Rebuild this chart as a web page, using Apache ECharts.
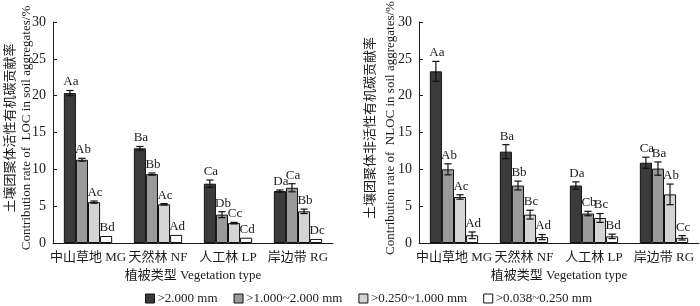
<!DOCTYPE html>
<html>
<head>
<meta charset="utf-8">
<script src="https://cdn.jsdelivr.net/npm/echarts@6/dist/echarts.min.js"></script>
<style>
  html, body { margin: 0; padding: 0; background: #fff; }
  #main { width: 700px; height: 306px; }
</style>
</head>
<body>
<div id="main"></div>
<script>
// 植被类型
const categories = ['中山草地 MG', '天然林 NF', '人工林 LP', '岸边带 RG'];
// 团聚体粒级
const sizeClasses = ['>2.000 mm', '>1.000~2.000 mm', '>0.250~1.000 mm', '>0.038~0.250 mm'];
const barColors = ['#3b3b3b', '#9a9a9a', '#d4d4d4', '#ffffff'];

// 活性有机碳贡献率 (LOC), 每行一个粒级
const locMean = [
    [20.35, 12.85, 8.05, 7.05],
    [11.3, 9.35, 3.85, 7.5],
    [5.55, 5.25, 2.7, 4.3],
    [0.95, 1.1, 0.72, 0.55]
];
const locErr = [
    [0.35, 0.25, 0.5, 0.15],
    [0.2, 0.15, 0.4, 0.55],
    [0.15, 0.1, 0.1, 0.3],
    [0, 0, 0, 0]
];
const locLetters = [
    ['Aa', 'Ba', 'Ca', 'Da'],
    ['Ab', 'Bb', 'Db', 'Ca'],
    ['Ac', 'Ac', 'Cc', 'Bb'],
    ['Bd', 'Ad', 'Cd', 'Dc']
];

// 非活性有机碳贡献率 (NLOC)
const nlocMean = [
    [23.3, 12.4, 7.8, 10.9],
    [10.0, 7.8, 4.0, 10.1],
    [6.25, 3.85, 3.4, 6.6],
    [1.05, 0.8, 0.9, 0.7]
];
const nlocErr = [
    [1.35, 0.95, 0.5, 0.75],
    [0.75, 0.6, 0.3, 0.9],
    [0.3, 0.6, 0.6, 1.4],
    [0.45, 0.35, 0.3, 0.3]
];
const nlocLetters = [
    ['Aa', 'Ba', 'Da', 'Ca'],
    ['Ab', 'Bb', 'Cb', 'Ba'],
    ['Ac', 'Bc', 'Bc', 'Ab'],
    ['Ad', 'Ad', 'Bd', 'Cc']
];

const yTicks = { min: 0, max: 30, interval: 5 };

const FONT = "'Liberation Serif', 'Noto Sans CJK SC', serif";
const GAP = 0.31;

const chart = echarts.init(document.getElementById('main'));

function xAxisFor(gridIndex) {
    return {
        type: 'category',
        gridIndex: gridIndex,
        data: categories,
        name: '植被类型 Vegetation type',
        nameLocation: 'middle',
        nameGap: 26,
        nameTextStyle: { fontFamily: FONT, fontSize: 13, color: '#1a1a1a' },
        axisLine: { lineStyle: { color: '#1a1a1a', width: 1 } },
        axisTick: { inside: true, length: 4, lineStyle: { color: '#1a1a1a' } },
        axisLabel: { fontFamily: FONT, fontSize: 13, color: '#1a1a1a', margin: 8, interval: 0 }
    };
}

function yAxisFor(gridIndex) {
    return {
        type: 'value',
        gridIndex: gridIndex,
        min: yTicks.min,
        max: yTicks.max,
        interval: yTicks.interval,
        splitLine: { show: false },
        axisLine: { show: true, lineStyle: { color: '#1a1a1a', width: 1 } },
        axisTick: { show: true, inside: true, length: 4, lineStyle: { color: '#1a1a1a' } },
        axisLabel: { fontFamily: FONT, fontSize: 14, color: '#1a1a1a', margin: 7 }
    };
}

function barSeries(gridIndex, means) {
    return means.map((row, i) => ({
        name: sizeClasses[i],
        type: 'bar',
        xAxisIndex: gridIndex,
        yAxisIndex: gridIndex,
        data: row,
        barGap: '0%',
        barCategoryGap: (GAP * 100) + '%',
        itemStyle: { color: barColors[i], borderColor: '#111', borderWidth: 1 },
        silent: true
    }));
}

// 误差线 + 显著性字母
function errorSeries(gridIndex, means, errs, letters) {
    return means.map((row, i) => ({
        type: 'custom',
        xAxisIndex: gridIndex,
        yAxisIndex: gridIndex,
        z: 5,
        silent: true,
        data: row.map((v, c) => [c, v, errs[i][c], letters[i][c]]),
        encode: { x: 0, y: 1 },
        renderItem: function (params, api) {
            const c = api.value(0);
            const v = api.value(1);
            const e = api.value(2);
            const band = api.size([1, 0])[0];
            const bw = band * (1 - GAP) / 4;
            const x = api.coord([c, 0])[0] + (i - 1.5) * bw;
            const top = api.coord([c, v + e])[1];
            const bot = api.coord([c, v - e])[1];
            const cap = bw * 0.3;
            const children = [];
            if (e > 0) {
                const ls = { stroke: '#111', lineWidth: 1.2 };
                children.push({ type: 'line', shape: { x1: x, y1: top, x2: x, y2: bot }, style: ls });
                children.push({ type: 'line', shape: { x1: x - cap, y1: top, x2: x + cap, y2: top }, style: ls });
                children.push({ type: 'line', shape: { x1: x - cap, y1: bot, x2: x + cap, y2: bot }, style: ls });
            }
            children.push({
                type: 'text',
                style: {
                    text: letters[i][c],
                    x: x + 1,
                    y: top - 2,
                    align: 'center',
                    verticalAlign: 'bottom',
                    fontFamily: FONT,
                    fontSize: 13,
                    fill: '#1a1a1a'
                }
            });
            return { type: 'group', children: children };
        }
    }));
}

function yTitle(x, text) {
    return {
        type: 'text',
        x: x,
        y: 128,
        rotation: Math.PI / 2,
        style: {
            text: text,
            align: 'center',
            verticalAlign: 'middle',
            fontFamily: FONT,
            fontSize: 13,
            fill: '#1a1a1a'
        }
    };
}

const option = {
    backgroundColor: '#fff',
    animation: false,
    grid: [
        { left: 53, top: 22, width: 280, height: 221 },
        { left: 419, top: 22, width: 280, height: 221 }
    ],
    xAxis: [xAxisFor(0), xAxisFor(1)],
    yAxis: [yAxisFor(0), yAxisFor(1)],
    legend: {
        data: sizeClasses,
        left: 140,
        top: 287,
        icon: 'rect',
        itemWidth: 9,
        itemHeight: 9,
        itemGap: 16,
        itemStyle: { borderColor: '#111', borderWidth: 1 },
        textStyle: { fontFamily: FONT, fontSize: 13, color: '#1a1a1a', padding: [0, 0, 0, -2] },
        selectedMode: false
    },
    graphic: [
        yTitle(11, '土壤团聚体活性有机碳贡献率'),
        yTitle(27, 'Contribution rate of  LOC in soil aggregates/%'),
        yTitle(371, '土壤团聚体非活性有机碳贡献率'),
        yTitle(391, 'Contribution rate of  NLOC in soil aggregates/%')
    ],
    series: [].concat(
        barSeries(0, locMean),
        barSeries(1, nlocMean),
        errorSeries(0, locMean, locErr, locLetters),
        errorSeries(1, nlocMean, nlocErr, nlocLetters)
    )
};

chart.setOption(option);
</script>
</body>
</html>
